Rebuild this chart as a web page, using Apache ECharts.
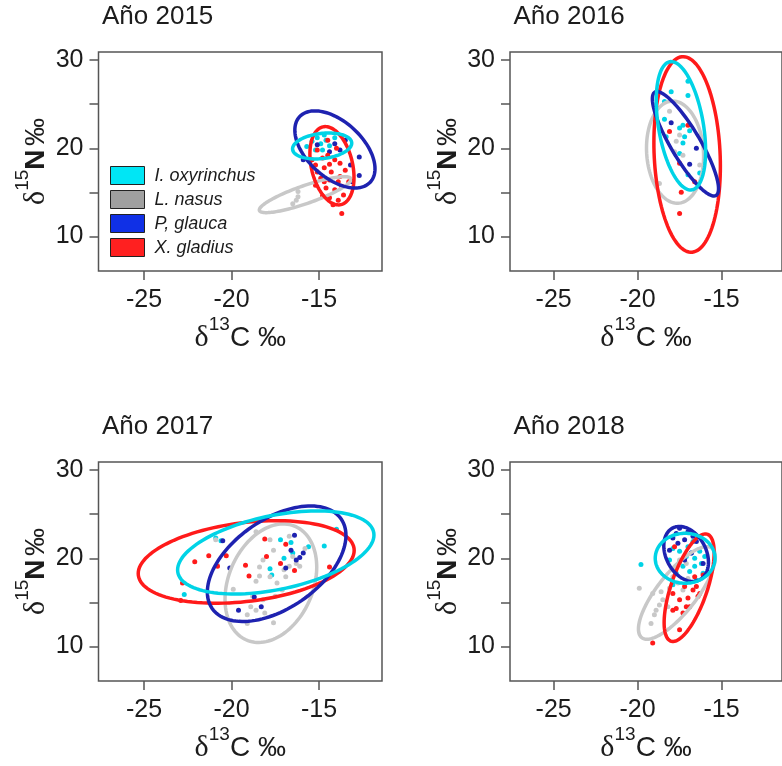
<!DOCTYPE html>
<html>
<head>
<meta charset="utf-8">
<script src="https://cdn.jsdelivr.net/npm/echarts@6/dist/echarts.min.js"></script>
<style>
html, body { margin: 0; padding: 0; background: #fff; }
#chart { width: 782px; height: 766px; }
</style>
</head>
<body>
<div id="chart"></div>
<script>
// Panels (one per sampling year) and species
const years = ['Año 2015', 'Año 2016', 'Año 2017', 'Año 2018'];
const species = ['I. oxyrinchus', 'L. nasus', 'P, glauca', 'X. gladius'];

// Axis ticks and labels
const xTicks = [-25, -20, -15];
const yTicks = [10, 15, 20, 25, 30];
const yLabels = [10, 20, 30];

// Individual samples [δ13C, δ15N] per species and year
const oxy2015 = [[-15.7,20.2],[-15.4,20.8],[-15.1,21.2],[-14.9,20.5],[-14.8,19.8],[-14.6,20.9],[-14.4,20.3],[-15.2,19.8],[-14.1,21.2],[-14.7,21.5]];
const nas2015 = [[-16.2,15.1],[-16.2,14.5],[-16.5,13.7],[-16.3,14.1]];
const gla2015 = [[-14.1,20.5],[-12.7,19.0],[-12.7,16.9],[-13.1,16.2],[-15.9,18.7],[-13.5,20.9],[-13.8,19.8],[-14.4,19.6],[-15.1,20.4],[-13.2,18.1]];
const xip2015 = [[-15.1,19.8],[-14.8,18.9],[-14.5,19.2],[-14.1,18.7],[-13.8,18.3],[-15.2,18.1],[-14.7,17.8],[-14.3,17.3],[-13.5,17.5],[-14.9,16.6],[-14.4,16.4],[-13.9,16.2],[-15.2,15.8],[-14.6,15.5],[-14.1,15.3],[-13.7,15.7],[-14.8,14.6],[-14.4,14.4],[-13.9,14.1],[-13.6,14.7],[-15.1,17.3],[-15.4,18.7],[-14.0,20.0],[-14.4,18.2],[-13.8,16.8],[-14.7,16.2],[-14.2,13.6],[-14.5,20.9],[-13.3,16.2],[-13.7,12.6]];

const oxy2016 = [[-18.0,26.4],[-18.4,23.3],[-18.3,21.3],[-17.5,22.3],[-17.3,22.6],[-17.0,27.6],[-17.0,26.0],[-17.2,21.3],[-16.9,22.0],[-17.3,20.6],[-17.5,19.4],[-16.3,17.2],[-17.0,17.0],[-18.4,25.3]];
const nas2016 = [[-18.1,24.2],[-17.7,20.8],[-17.5,21.5],[-17.3,19.2],[-16.3,18.1],[-18.7,16.0],[-17.8,19.6]];
const gla2016 = [[-18.0,22.9],[-16.5,20.0],[-16.9,18.2]];
const xip2016 = [[-18.1,21.9],[-17.0,22.6],[-17.4,15.0],[-17.5,12.6],[-17.5,18.3],[-16.6,16.2]];

const oxy2017 = [[-22.7,15.9],[-20.9,22.3],[-17.8,18.8],[-17.7,18.1],[-17.2,22.1],[-16.6,21.8],[-15.6,21.3],[-14.7,21.4],[-14.0,23.3],[-17.0,20.0],[-16.5,20.6],[-20.6,22.0]];
const nas2017 = [[-20.9,22.1],[-18.6,23.0],[-17.8,22.1],[-16.7,22.5],[-18.4,19.0],[-18.4,18.0],[-19.9,16.5],[-18.8,15.7],[-19.1,13.6],[-18.6,14.1],[-17.6,12.7],[-17.8,17.9],[-17.4,17.2],[-17.1,16.4],[-16.9,17.9],[-16.7,19.1],[-16.3,19.4],[-16.1,19.1],[-15.8,21.1],[-18.2,15.3],[-18.9,14.5],[-18.1,13.8],[-17.5,15.7],[-17.0,18.7],[-16.5,20.2],[-17.6,20.9],[-18.2,19.8],[-19.1,12.6],[-18.6,17.4],[-20.8,19.2]];
const gla2017 = [[-20.5,22.0],[-20.1,18.9],[-19.6,14.1],[-18.7,15.6],[-18.3,14.5],[-16.9,18.9],[-16.6,20.9],[-16.4,22.6],[-16.3,19.8],[-15.9,20.6],[-16.1,20.1]];
const xip2017 = [[-22.8,17.2],[-22.9,15.2],[-22.1,19.6],[-21.3,20.3],[-20.3,20.3],[-20.8,19.1],[-19.2,19.2],[-19.0,18.0],[-18.1,22.2],[-18.0,20.2],[-17.2,19.4],[-16.9,21.6],[-16.4,18.6],[-14.4,19.0]];

const oxy2018 = [[-19.8,19.3],[-17.9,21.1],[-17.5,20.8],[-17.1,20.2],[-16.8,20.6],[-16.6,20.0],[-16.3,20.8],[-17.3,19.1],[-16.9,18.5],[-16.6,19.1],[-16.2,19.4],[-17.7,18.3],[-17.0,21.3],[-16.7,21.9],[-16.1,18.3],[-17.9,17.0],[-18.1,19.8],[-16.5,17.5],[-17.5,19.6],[-16.0,20.2]];
const nas2018 = [[-19.9,16.6],[-19.1,16.0],[-19.0,13.6],[-19.2,12.6],[-18.9,14.1],[-18.5,15.3],[-18.6,16.2],[-18.1,16.6],[-17.9,17.9],[-17.3,16.4],[-17.0,17.7],[-17.6,17.2],[-18.7,14.7],[-18.2,14.5],[-17.5,19.8],[-17.1,19.4],[-17.9,18.7]];
const gla2018 = [[-17.9,22.3],[-17.5,23.4],[-17.0,23.0],[-17.6,21.7],[-18.1,20.9],[-16.7,22.5],[-17.2,22.1],[-16.5,21.9],[-16.1,19.4],[-17.7,22.8],[-16.8,20.6],[-17.2,19.8]];
const xip2018 = [[-17.8,21.3],[-17.9,16.0],[-17.5,15.3],[-17.0,15.5],[-16.7,16.4],[-16.5,16.8],[-17.1,14.5],[-17.7,14.3],[-17.3,13.8],[-17.9,14.1],[-17.2,16.8],[-16.3,16.0],[-17.5,11.9],[-19.1,10.4],[-16.6,17.9],[-16.1,18.1],[-16.4,15.7],[-16.9,14.5]];

// Standard ellipses per year:
// [centre δ13C, centre δ15N, half-range δ13C, half-range δ15N, tilt]
const ellOxy = [[-14.82,20.26,1.69,1.47,0.22],[-17.42,22.55,1.47,7.28,-0.39],[-17.47,20.66,5.61,4.71,0.42],[-17.17,20.0,1.78,2.83,0.0]];
const ellNas = [[-15.79,14.74,2.62,2.04,0.85],[-17.77,19.56,1.7,5.8,-0.08],[-17.75,17.17,2.62,6.72,0.27],[-17.66,16.07,2.29,5.25,0.78]];
const ellGla = [[-14.09,19.87,2.29,4.37,-0.5],[-17.15,20.51,1.97,5.92,-0.86],[-17.42,19.38,3.96,6.55,0.49],[-17.11,20.49,1.33,3.12,-0.3]];
const ellXip = [[-14.26,18.02,1.26,4.44,-0.3],[-17.05,19.3,1.98,11.09,-0.12],[-19.16,19.58,6.17,4.68,0.28],[-16.93,16.66,1.49,6.1,0.65]];

const points = [
  [oxy2015, nas2015, gla2015, xip2015],
  [oxy2016, nas2016, gla2016, xip2016],
  [oxy2017, nas2017, gla2017, xip2017],
  [oxy2018, nas2018, gla2018, xip2018]
];
const ellipses = [ellOxy, ellNas, ellGla, ellXip];

// Colours: points/ellipses and legend swatches
const markColors = ['#00D3E6', '#C8C8C8', '#1E22B0', '#FF1A1A'];
const legendColors = ['#00E6F5', '#A0A0A0', '#1030E6', '#FF2020'];
// ellipses drawn in this order (last on top)
const drawOrder = [1, 3, 2, 0];

const FONT = 'Liberation Sans, Arial, sans-serif';
const INK = '#1c1c1c';
const FRAME = '#555';

const panels = [
  { left: 98.5, top: 52 },
  { left: 510, top: 52 },
  { left: 98.5, top: 462 },
  { left: 510, top: 462 }
];
const PW = 283.5, PH = 219;

function renderEllipse(params, api) {
  const cx = api.value(0), cy = api.value(1);
  const sx = api.value(2), sy = api.value(3), r = api.value(4);
  const q = Math.sqrt(1 - r * r);
  const pts = [];
  const n = 120;
  for (let k = 0; k < n; k++) {
    const t = 2 * Math.PI * k / n;
    pts.push(api.coord([cx + sx * Math.cos(t), cy + sy * (r * Math.cos(t) + q * Math.sin(t))]));
  }
  return {
    type: 'polygon',
    shape: { points: pts },
    style: { fill: 'none', stroke: api.visual('color'), lineWidth: 3.5 }
  };
}

const nameRich = {
  d: { fontFamily: 'Liberation Serif, serif', fontSize: 30, lineHeight: 46, color: INK },
  s: { fontFamily: FONT, fontSize: 19, lineHeight: 19, verticalAlign: 'top', color: INK },
  t: { fontFamily: FONT, fontSize: 28, lineHeight: 46, color: INK },
  b: { fontFamily: FONT, fontSize: 28, lineHeight: 46, fontWeight: 'bold', color: INK }
};

const grid = [], xAxis = [], yAxis = [], title = [], series = [];
panels.forEach((p, i) => {
  grid.push({
    left: p.left, top: p.top, width: PW, height: PH,
    show: true, borderColor: FRAME, borderWidth: 1.5, backgroundColor: 'transparent'
  });
  title.push({
    text: years[i], left: p.left + 3.5, top: p.top - 48, padding: 0,
    textStyle: { fontFamily: FONT, fontSize: 26, fontWeight: 'normal', color: INK }
  });
  xAxis.push({
    gridIndex: i, type: 'value', min: -27.6, max: -11.4,
    splitLine: { show: false },
    axisLine: { show: false },
    axisTick: { show: true, length: 9, customValues: xTicks, lineStyle: { color: FRAME, width: 1.5 } },
    axisLabel: { customValues: xTicks, margin: 17, fontFamily: FONT, fontSize: 25, color: INK },
    name: '{d|δ}{s|13}{t|C ‰}', nameLocation: 'middle', nameGap: 44,
    nameTextStyle: { rich: nameRich }
  });
  yAxis.push({
    gridIndex: i, type: 'value', min: 6.08, max: 30.92,
    splitLine: { show: false },
    axisLine: { show: false },
    axisTick: { show: true, length: 9, customValues: yTicks, lineStyle: { color: FRAME, width: 1.5 } },
    axisLabel: { customValues: yLabels, margin: 15, fontFamily: FONT, fontSize: 25, color: INK },
    name: '{d|δ}{s|15}{b|N} {t|‰}', nameLocation: 'middle', nameGap: 39,
    nameTextStyle: { rich: nameRich }
  });

  // samples
  species.forEach((sp, k) => {
    series.push({
      type: 'scatter', name: sp, xAxisIndex: i, yAxisIndex: i,
      data: points[i][k], symbol: 'circle', symbolSize: 5,
      itemStyle: { color: markColors[k], opacity: 1 },
      silent: true, z: 2
    });
  });
  // standard ellipses
  drawOrder.forEach((k, o) => {
    series.push({
      type: 'custom', name: species[k], xAxisIndex: i, yAxisIndex: i,
      coordinateSystem: 'cartesian2d',
      data: [ellipses[k][i]],
      encode: { x: 0, y: 1 },
      renderItem: renderEllipse,
      itemStyle: { color: markColors[k] },
      silent: true, z: 3 + o
    });
  });
});

const chart = echarts.init(document.getElementById('chart'), null, { renderer: 'canvas' });
chart.setOption({
  animation: false,
  backgroundColor: '#fff',
  title: title,
  grid: grid,
  xAxis: xAxis,
  yAxis: yAxis,
  legend: {
    orient: 'vertical', left: 110, top: 166, padding: 0,
    itemWidth: 34, itemHeight: 18, itemGap: 5,
    selectedMode: false,
    icon: 'rect',
    textStyle: { fontFamily: FONT, fontSize: 18, fontStyle: 'italic', color: INK, padding: [0, 0, 0, 5] },
    data: species.map((s, k) => ({
      name: s,
      icon: 'rect',
      itemStyle: { color: legendColors[k], borderColor: '#222', borderWidth: 1 }
    }))
  },
  series: series
});
</script>
</body>
</html>
